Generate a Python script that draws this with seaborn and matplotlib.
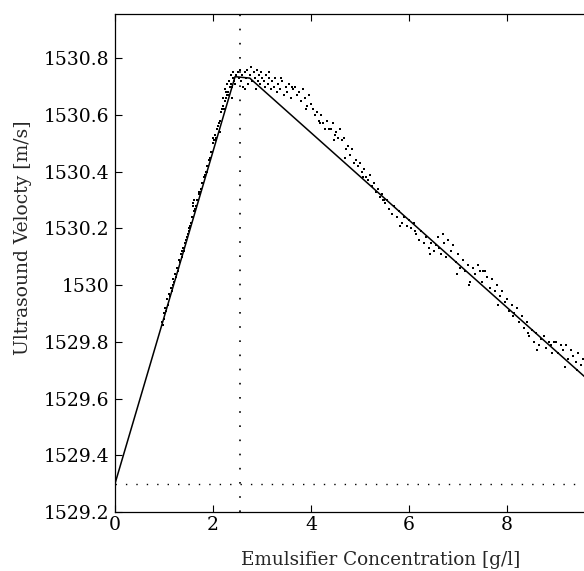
import matplotlib
matplotlib.use("Agg")
import matplotlib.pyplot as plt
import seaborn as sns
import pandas as pd
from matplotlib.ticker import FuncFormatter

sns.set_style("ticks")
plt.rcParams['font.family'] = ['DejaVu Serif']

# measured data (scatter)
conc = [0.96, 0.98, 1.00, 1.01, 1.03, 1.05, 1.07, 1.09, 1.11, 1.13, 1.15, 1.17, 1.19, 1.21,
        1.23, 1.25, 1.27, 1.29, 1.31, 1.33, 1.35, 1.37, 1.39, 1.41, 1.43, 1.45, 1.47, 1.49,
        1.51, 1.53, 1.55, 1.57, 1.59, 1.60, 1.61, 1.62, 1.63, 1.65, 1.67, 1.69, 1.71, 1.73,
        1.75, 1.77, 1.79, 1.81, 1.83, 1.85, 1.87, 1.89, 1.91, 1.93, 1.95, 1.97, 1.99, 2.01,
        2.03, 2.05, 2.07, 2.09, 2.11, 2.13, 2.14, 2.15, 2.17, 2.19, 2.21, 2.23, 2.25, 2.27,
        2.29, 2.31, 2.33, 2.35, 2.37, 2.39, 2.41, 2.43,
        2.20, 2.24, 2.28, 2.32, 2.36, 2.40, 2.44, 2.47, 2.50, 2.53, 2.55, 2.58, 2.60, 2.62,
        2.65, 2.68, 2.70, 2.72, 2.75, 2.78, 2.80, 2.83, 2.86, 2.88, 2.90, 2.93, 2.96, 2.98,
        3.01, 3.04, 3.06, 3.09, 3.12, 3.15, 3.18, 3.21, 3.24, 3.27, 3.30, 3.33, 3.36, 3.40,
        3.44, 3.48, 3.52, 3.56, 3.60, 3.64, 3.68, 3.72, 3.76, 3.80, 3.84, 3.88, 3.92, 3.96,
        4.00, 4.04, 4.08, 4.12, 4.16, 4.20, 4.24, 4.28, 4.32, 4.36, 4.40, 4.44, 4.48, 4.52,
        4.56, 4.60, 4.64, 4.68, 4.72, 4.76, 4.80, 4.84, 4.88, 4.92, 4.96, 5.00, 5.04, 5.08,
        5.12, 5.16, 5.20, 5.24, 5.28, 5.32, 5.36, 5.40, 5.44, 5.48, 5.52, 5.56,
        5.60, 5.65, 5.70, 5.75, 5.80, 5.85, 5.90, 5.95, 6.00, 6.05, 6.10, 6.15, 6.20, 6.25,
        6.30, 6.35, 6.40, 6.45, 6.50, 6.55, 6.60, 6.65, 6.70, 6.72, 6.75, 6.80, 6.85, 6.90,
        6.95, 7.00, 7.05, 7.10, 7.15, 7.20, 7.25, 7.30, 7.35, 7.40, 7.45, 7.50, 7.55, 7.60,
        7.65, 7.70, 7.75, 7.80, 7.85, 7.90, 7.95, 8.00, 8.05, 8.10, 8.15, 8.20, 8.25, 8.30,
        8.35, 8.40, 8.45, 8.50, 8.55, 8.60, 8.65, 8.70, 8.75, 8.80, 8.85, 8.90, 8.95, 9.00,
        9.05, 9.10, 9.15, 9.20, 9.25, 9.30, 9.35, 9.40, 9.45, 9.50, 9.55,
        1.04, 1.18, 1.36, 1.52, 1.72, 1.88, 2.06, 2.26, 2.38, 2.66, 2.92, 3.14, 3.38, 3.62,
        3.90, 4.18, 4.46, 4.70, 5.06, 5.46, 5.82, 6.12, 6.42, 6.62, 6.98, 7.22, 7.48, 7.82,
        8.12, 8.42, 8.62, 8.92, 9.18, 9.42]
velocity = [1529.87, 1529.86, 1529.90, 1529.88, 1529.92, 1529.91, 1529.95, 1529.93, 1529.97,
            1529.96, 1529.99, 1529.98, 1530.02, 1530.01, 1530.04, 1530.03, 1530.06, 1530.05,
            1530.09, 1530.08, 1530.11, 1530.10, 1530.13, 1530.12, 1530.15, 1530.16, 1530.17,
            1530.18, 1530.20, 1530.21, 1530.22, 1530.24, 1530.28, 1530.29, 1530.26, 1530.30,
            1530.27, 1530.28, 1530.30, 1530.30, 1530.32, 1530.33, 1530.34, 1530.36, 1530.36,
            1530.38, 1530.39, 1530.40, 1530.42, 1530.42, 1530.44, 1530.45, 1530.47, 1530.47,
            1530.50, 1530.52, 1530.51, 1530.53, 1530.52, 1530.55, 1530.56, 1530.57, 1530.54,
            1530.58, 1530.61, 1530.62, 1530.63, 1530.62, 1530.65, 1530.66, 1530.67, 1530.68,
            1530.67, 1530.70, 1530.71, 1530.70, 1530.73, 1530.72,
            1530.66, 1530.69, 1530.71, 1530.72, 1530.74, 1530.75, 1530.71, 1530.74, 1530.75,
            1530.73, 1530.76, 1530.72, 1530.74, 1530.70, 1530.75, 1530.73, 1530.76, 1530.71,
            1530.74, 1530.77, 1530.72, 1530.75, 1530.73, 1530.69, 1530.76, 1530.74, 1530.71,
            1530.75, 1530.73, 1530.72, 1530.70, 1530.74, 1530.71, 1530.73, 1530.69, 1530.72,
            1530.70, 1530.73, 1530.68, 1530.71, 1530.69, 1530.72, 1530.67, 1530.70, 1530.68,
            1530.71, 1530.66, 1530.69, 1530.70, 1530.67, 1530.68, 1530.65, 1530.69, 1530.66,
            1530.63, 1530.67, 1530.64, 1530.62, 1530.60, 1530.61, 1530.58, 1530.60, 1530.57,
            1530.55, 1530.58, 1530.55, 1530.55, 1530.57, 1530.53, 1530.54, 1530.52, 1530.55,
            1530.51, 1530.52, 1530.48, 1530.49, 1530.46, 1530.48, 1530.43, 1530.44, 1530.42,
            1530.43, 1530.40, 1530.41, 1530.38, 1530.37, 1530.39, 1530.35, 1530.36, 1530.33,
            1530.34, 1530.31, 1530.32, 1530.30, 1530.29, 1530.30,
            1530.27, 1530.25, 1530.28, 1530.24, 1530.26, 1530.22, 1530.24, 1530.21, 1530.23,
            1530.20, 1530.22, 1530.18, 1530.16, 1530.19, 1530.15, 1530.17, 1530.13, 1530.15,
            1530.12, 1530.14, 1530.17, 1530.11, 1530.18, 1530.15, 1530.10, 1530.16, 1530.12,
            1530.14, 1530.08, 1530.11, 1530.06, 1530.09, 1530.05, 1530.07, 1530.01, 1530.06,
            1530.04, 1530.07, 1530.05, 1530.05, 1530.05, 1530.03, 1529.99, 1530.02, 1529.98,
            1530.00, 1529.96, 1529.98, 1529.94, 1529.95, 1529.91, 1529.93, 1529.90, 1529.92,
            1529.87, 1529.89, 1529.85, 1529.87, 1529.82, 1529.84, 1529.80, 1529.83, 1529.79,
            1529.81, 1529.82, 1529.78, 1529.80, 1529.79, 1529.80, 1529.80, 1529.76, 1529.79,
            1529.77, 1529.79, 1529.74, 1529.77, 1529.75, 1529.73, 1529.76, 1529.72, 1529.74,
            1529.92, 1530.00, 1530.12, 1530.19, 1530.33, 1530.40, 1530.51, 1530.68, 1530.66,
            1530.69, 1530.72, 1530.75, 1530.73, 1530.70, 1530.62, 1530.57, 1530.51, 1530.45,
            1530.38, 1530.30, 1530.21, 1530.19, 1530.11, 1530.13, 1530.04, 1530.00, 1530.01,
            1529.93, 1529.89, 1529.83, 1529.77, 1529.76, 1529.71, 1529.70]

# fitted straight lines
fit_conc = [0.0, 2.45, 2.75, 10.0]
fit_velocity = [1529.30, 1530.735, 1530.73, 1529.613]

# reference markers
cmc = 2.55
v0 = 1529.30

xticks = [0, 2, 4, 6, 8]
yticks = [1529.2, 1529.4, 1529.6, 1529.8, 1530.0, 1530.2, 1530.4, 1530.6, 1530.8]

df = pd.DataFrame({"conc": conc, "vel": velocity})
fit = pd.DataFrame({"conc": fit_conc, "vel": fit_velocity})

fig = plt.figure(figsize=(5.84, 5.71), dpi=100)
ax = fig.add_axes([115/584, 59/571, 490/584, 498/571])

sns.scatterplot(data=df, x="conc", y="vel", ax=ax, color="black", s=4.5,
                marker="s", linewidth=0, legend=False)
sns.lineplot(data=fit, x="conc", y="vel", ax=ax, color="black", linewidth=1.1,
             sort=False, estimator=None)
ax.axvline(cmc, color="black", linewidth=1.2, linestyle=(0, (1, 7.5)))
ax.axhline(v0, color="black", linewidth=1.0, linestyle=(0, (1, 6.5)))

ax.set_xlim(0, 10)
ax.set_ylim(1529.2, 1530.956)
ax.set_xticks(xticks)
ax.set_yticks(yticks)
ax.yaxis.set_major_formatter(FuncFormatter(lambda v, p: f"{v:.1f}".rstrip('0').rstrip('.')))
ax.tick_params(direction="in", length=5, width=0.8, labelsize=13.5, top=True, right=True,
               pad=4, colors="black")
ax.tick_params(axis="x", pad=3)
for s in ax.spines.values():
    s.set_linewidth(0.9)
    s.set_color("black")
ax.set_xlabel("")
ax.set_ylabel("")
fig.text(381/584, 1 - 560/571, "Emulsifier Concentration [g/l]", ha="center", va="center",
         fontsize=13.2)
fig.text(23/584, 1 - 238/571, "Ultrasound Velocty [m/s]", ha="center", va="center",
         rotation=90, fontsize=13.5)

fig.savefig("out.png", dpi=100)
